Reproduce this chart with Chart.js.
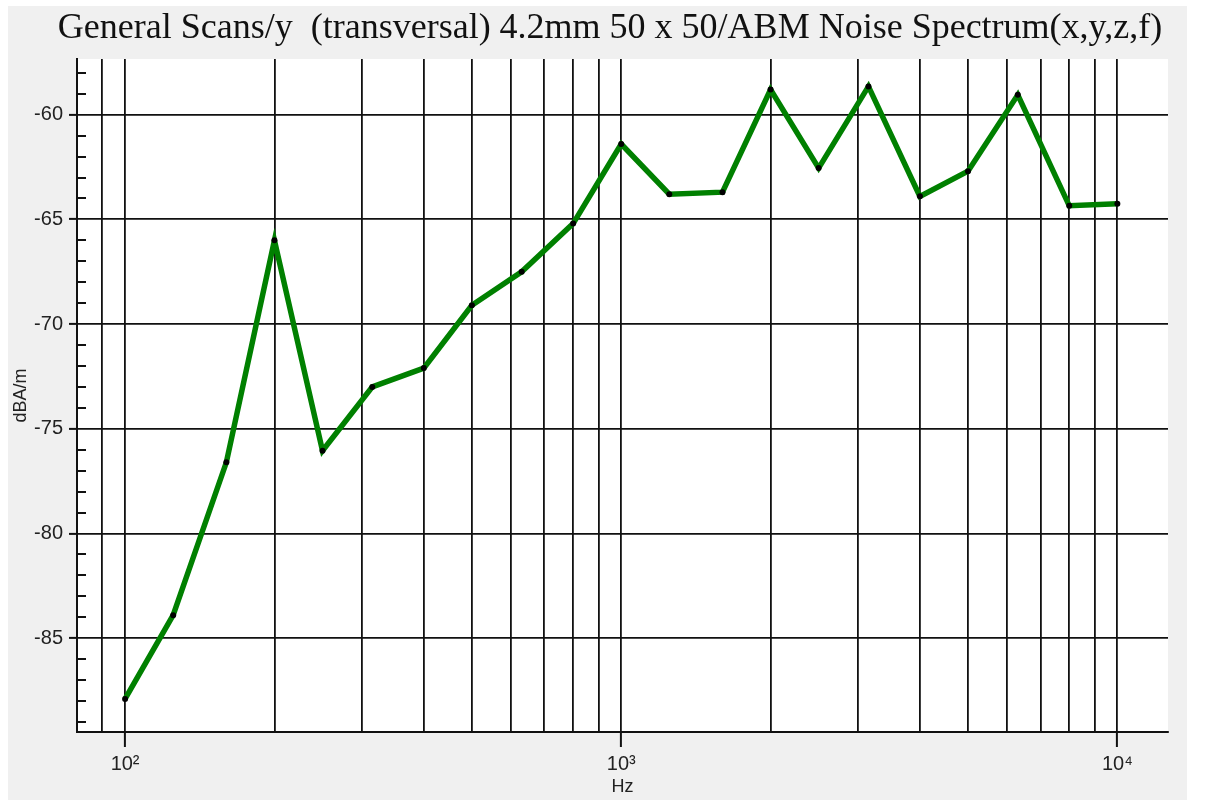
<!DOCTYPE html>
<html>
<head>
<meta charset="utf-8">
<script src="https://cdn.jsdelivr.net/npm/chart.js@4"></script>
<style>
  html, body { margin: 0; padding: 0; background: #fff; }
  #wrap { width: 1205px; height: 800px; }
</style>
</head>
<body>
<div id="wrap"><canvas id="myChart" width="1205" height="800"></canvas></div>
<script>
// third-octave band centre frequencies (Hz) and measured level (dBA/m)
const freqs = [100, 125, 160, 200, 250, 315, 400, 500, 630, 800, 1000,
               1250, 1600, 2000, 2500, 3150, 4000, 5000, 6300, 8000, 10000];
const levels = [-87.9, -83.9, -76.6, -66.0, -76.05, -73.0, -72.1, -69.1, -67.5, -65.2, -61.4,
                -63.8, -63.7, -58.8, -62.55, -58.65, -63.9, -62.7, -59.05, -64.35, -64.25];

const xGridValues = [90, 100, 200, 300, 400, 500, 600, 700, 800, 900, 1000,
                     2000, 3000, 4000, 5000, 6000, 7000, 8000, 9000, 10000];
const xMajorValues = [100, 1000, 10000];
const xMajorLabels = ['10²', '10³', '10⁴'];
const yGridValues = [-85, -80, -75, -70, -65, -60];
const yMinorValues = [-89, -88, -87, -86, -84, -83, -82, -81, -79, -78, -77, -76,
                      -74, -73, -72, -71, -69, -68, -67, -66, -64, -63, -62, -61, -59, -58];

const titleText = 'General Scans/y  (transversal) 4.2mm 50 x 50/ABM Noise Spectrum(x,y,z,f)';
const xRange = [80, 12650];
const yRange = [-89.48, -57.34];

const sansFont = "'Liberation Sans', Arial, sans-serif";

// grey panel, white plot area, title and the small inward minor ticks on the y axis
const panelPlugin = {
    id: 'panel',
    beforeDraw(chart) {
        const { ctx, chartArea: a } = chart;
        ctx.save();
        ctx.fillStyle = '#ffffff';
        ctx.fillRect(0, 0, chart.width, chart.height);
        ctx.fillStyle = '#f0f0f0';
        ctx.fillRect(8, 6, 1179, 794);
        ctx.fillStyle = '#ffffff';
        ctx.fillRect(a.left, a.top, a.right - a.left, a.bottom - a.top);

        ctx.fillStyle = '#111';
        ctx.font = "36px 'Liberation Serif', 'Times New Roman', serif";
        ctx.textAlign = 'center';
        ctx.textBaseline = 'alphabetic';
        ctx.fillText(titleText, 610, 38);
        ctx.restore();
    },
    afterDatasetsDraw(chart) {
        const { ctx, chartArea: a } = chart;
        const y = chart.scales.y;
        ctx.save();
        ctx.strokeStyle = '#111';
        ctx.lineWidth = 2;
        ctx.beginPath();
        yMinorValues.forEach(v => {
            const py = Math.round(y.getPixelForValue(v));
            ctx.moveTo(a.left, py);
            ctx.lineTo(a.left + 9, py);
        });
        ctx.stroke();
        ctx.restore();
    }
};

const canvas = document.getElementById('myChart');

new Chart(canvas, {
    type: 'line',
    data: {
        datasets: [{
            label: 'Noise Spectrum',
            data: freqs.map((f, i) => ({ x: f, y: levels[i] })),
            borderColor: '#008000',
            borderWidth: 5.5,
            pointRadius: 3,
            pointBackgroundColor: '#000',
            pointBorderWidth: 0,
            tension: 0,
            clip: false
        }]
    },
    options: {
        responsive: false,
        animation: false,
        layout: { padding: { top: 59, right: 37, left: 0, bottom: 0 } },
        plugins: {
            legend: { display: false },
            title: { display: false },
            tooltip: { enabled: false }
        },
        scales: {
            x: {
                type: 'logarithmic',
                min: xRange[0],
                max: xRange[1],
                afterBuildTicks(scale) {
                    scale.ticks = xGridValues.map(v => ({ value: v }));
                },
                afterFit(scale) { scale.height = 68; },
                ticks: {
                    autoSkip: false,
                    maxRotation: 0,
                    padding: 5,
                    color: '#222',
                    font: { family: sansFont, size: 20 },
                    callback: (v) => {
                        const k = xMajorValues.indexOf(v);
                        return k >= 0 ? xMajorLabels[k] : '';
                    }
                },
                grid: {
                    color: '#111',
                    lineWidth: 1.8,
                    tickLength: 15,
                    tickWidth: 2,
                    tickColor: (c) => (c.tick && xMajorValues.includes(c.tick.value)) ? '#111' : 'rgba(0,0,0,0)'
                },
                border: { display: true, color: '#111', width: 2 },
                title: {
                    display: true,
                    text: 'Hz',
                    color: '#222',
                    font: { family: sansFont, size: 18 },
                    padding: { top: 0, bottom: 2 }
                }
            },
            y: {
                type: 'linear',
                min: yRange[0],
                max: yRange[1],
                afterBuildTicks(scale) {
                    scale.ticks = yGridValues.map(v => ({ value: v }));
                },
                afterFit(scale) { scale.width = 77; },
                ticks: {
                    padding: 6,
                    color: '#222',
                    font: { family: sansFont, size: 20 }
                },
                grid: {
                    color: '#111',
                    lineWidth: 1.8,
                    tickLength: 8,
                    tickWidth: 2
                },
                border: { display: true, color: '#111', width: 2 },
                title: {
                    display: true,
                    text: 'dBA/m',
                    color: '#222',
                    font: { family: sansFont, size: 18 },
                    padding: { top: 10, bottom: 0 }
                }
            }
        }
    },
    plugins: [panelPlugin]
});
</script>
</body>
</html>
